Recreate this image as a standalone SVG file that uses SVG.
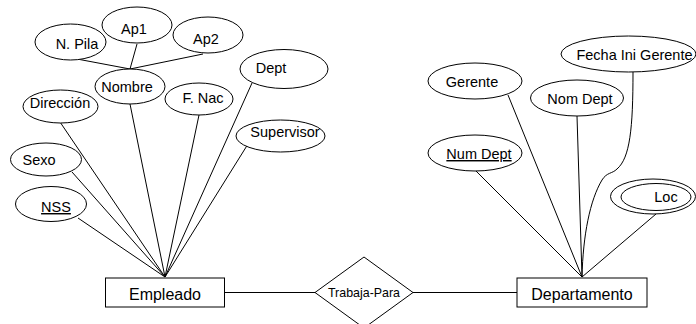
<svg xmlns="http://www.w3.org/2000/svg" width="696" height="324" viewBox="0 0 696 324">
  <style>
    .attr { fill: #ffffff; stroke: #000000; stroke-width: 1; }
    .ent { fill: #ffffff; stroke: #000000; stroke-width: 1; }
    .link { fill: none; stroke: #000000; stroke-width: 1; }
    text { font-family: "Liberation Sans", Arial, sans-serif; fill: #000000; text-anchor: middle; }
    .lbl { font-size: 14.5px; }
    .big { font-size: 16px; }
    .key { text-decoration: underline; }
  </style>
  <rect width="696" height="324" fill="#ffffff"/>

  <!-- connectors -->
  <g id="connectors">
    <!-- composite attribute Nombre -->
    <line class="link" x1="77" y1="59" x2="130" y2="69"/>
    <line class="link" x1="137" y1="44" x2="130" y2="69"/>
    <line class="link" x1="203" y1="54" x2="130" y2="69"/>
    <!-- Empleado attributes -->
    <line class="link" x1="60" y1="122" x2="165" y2="277"/>
    <line class="link" x1="130" y1="104" x2="165" y2="277"/>
    <line class="link" x1="199" y1="115" x2="165" y2="277"/>
    <line class="link" x1="252" y1="83" x2="165" y2="277"/>
    <line class="link" x1="248" y1="144" x2="165" y2="277"/>
    <line class="link" x1="72" y1="172" x2="165" y2="277"/>
    <line class="link" x1="78" y1="218" x2="165" y2="277"/>
    <!-- relationship -->
    <line class="link" x1="224" y1="292.5" x2="315" y2="292.5"/>
    <line class="link" x1="413" y1="292.5" x2="517" y2="292.5"/>
    <!-- Departamento attributes -->
    <line class="link" x1="508" y1="95" x2="582" y2="277"/>
    <line class="link" x1="577" y1="116" x2="582" y2="277"/>
    <line class="link" x1="476" y1="171" x2="582" y2="277"/>
    <line class="link" x1="656" y1="214" x2="582" y2="277"/>
    <path class="link" d="M633,72 C633,128 630,158 617,169 C612,174 607,172 602,180 C590,200 583,235 582,277"/>
  </g>

  <!-- Empleado -->
  <g id="empleado">
    <rect class="ent" x="105.5" y="278" width="119" height="29"/>
    <text class="big" x="165" y="300">Empleado</text>
  </g>

  <g id="n-pila">
    <ellipse class="attr" cx="70.5" cy="42" rx="35.5" ry="18"/>
    <text class="lbl" x="77" y="49">N. Pila</text>
  </g>
  <g id="ap1">
    <ellipse class="attr" cx="137" cy="25" rx="35" ry="18"/>
    <text class="lbl" x="134" y="34">Ap1</text>
  </g>
  <g id="ap2">
    <ellipse class="attr" cx="208" cy="35" rx="35" ry="18"/>
    <text class="lbl" x="206" y="44">Ap2</text>
  </g>
  <g id="nombre">
    <ellipse class="attr" cx="130" cy="86.5" rx="35" ry="17.5"/>
    <text class="lbl" x="127" y="92">Nombre</text>
  </g>
  <g id="direccion">
    <ellipse class="attr" cx="60.5" cy="106.5" rx="37.5" ry="16.5"/>
    <text class="lbl" x="60" y="108">Dirección</text>
  </g>
  <g id="f-nac">
    <ellipse class="attr" cx="199" cy="99" rx="34" ry="16"/>
    <text class="lbl" x="203" y="103">F. Nac</text>
  </g>
  <g id="dept">
    <ellipse class="attr" cx="284" cy="69" rx="44" ry="19.5"/>
    <text class="lbl" x="271" y="73">Dept</text>
  </g>
  <g id="supervisor">
    <ellipse class="attr" cx="280.5" cy="136" rx="44.5" ry="16"/>
    <text class="lbl" x="285" y="137">Supervisor</text>
  </g>
  <g id="sexo">
    <ellipse class="attr" cx="46" cy="159.5" rx="35.5" ry="16.5"/>
    <text class="lbl" x="39" y="165">Sexo</text>
  </g>
  <g id="nss">
    <ellipse class="attr" cx="51" cy="204" rx="35.5" ry="17.5"/>
    <text class="lbl key" x="56" y="212">NSS</text>
  </g>

  <!-- Trabaja-Para -->
  <g id="trabaja-para">
    <polygon class="ent" points="364,257 413,292.5 364,328 315,292.5"/>
    <text x="364" y="297" font-size="13" textLength="72" lengthAdjust="spacingAndGlyphs">Trabaja-Para</text>
  </g>

  <!-- Departamento -->
  <g id="departamento">
    <rect class="ent" x="517" y="278" width="130" height="29"/>
    <text class="big" x="582" y="300">Departamento</text>
  </g>

  <g id="gerente">
    <ellipse class="attr" cx="475" cy="81" rx="47" ry="18"/>
    <text class="lbl" x="472" y="87">Gerente</text>
  </g>
  <g id="nom-dept">
    <ellipse class="attr" cx="577" cy="98" rx="46.5" ry="18"/>
    <text class="lbl" x="580" y="104">Nom Dept</text>
  </g>
  <g id="fecha-ini-gerente">
    <ellipse class="attr" cx="628.5" cy="54" rx="67.5" ry="18"/>
    <text class="lbl" x="634.5" y="60">Fecha Ini Gerente</text>
  </g>
  <g id="num-dept">
    <ellipse class="attr" cx="475" cy="153" rx="47" ry="18"/>
    <text class="lbl key" x="479" y="159">Num Dept</text>
  </g>
  <g id="loc">
    <ellipse class="attr" cx="653" cy="196.5" rx="42.5" ry="17.5"/>
    <ellipse class="attr" cx="656" cy="197" rx="35" ry="13.5"/>
    <text class="lbl" x="666" y="202">Loc</text>
  </g>
</svg>
